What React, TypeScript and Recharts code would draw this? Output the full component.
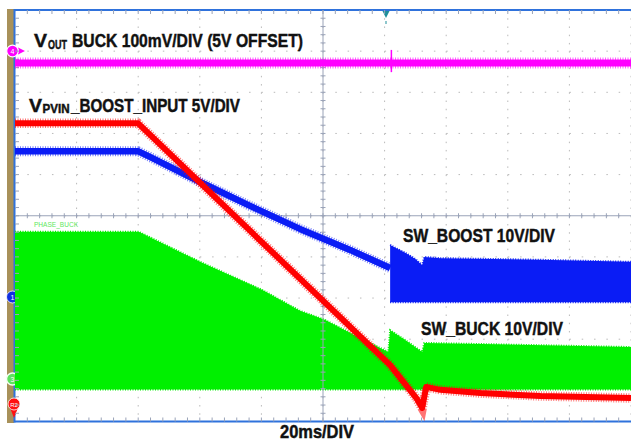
import React from "react";
import { ComposedChart, Line, Area, XAxis, YAxis, CartesianGrid, ReferenceLine } from "recharts";

// ---- axes: time in ms (20 ms/div, 10 div), vertical in screen divisions (10 div)
const X_TICKS = [0, 20, 40, 60, 80, 100, 120, 140, 160, 180, 200];
const Y_TICKS = [0, 1, 2, 3, 4, 5, 6, 7, 8, 9, 10];

// ---- VOUT BUCK (magenta)
const voutT = [0, 200];
const voutV = [8.71, 8.71];
const voutSpikeT = [122.2, 122.2];
const voutSpikeV = [9.03, 8.49];

// ---- VPVIN boost input (red)
const vpvinT = [0, 39.9, 121.8, 126.7, 130.3, 132.2, 133.5, 138.1, 151.1, 170.6, 200];
const vpvinV = [7.25, 7.25, 1.37, 0.91, 0.57, 0.33, 0.84, 0.77, 0.69, 0.62, 0.57];

// ---- SW_BOOST (blue): ramp before switching, then switching band
const boostT = [0, 39.9, 43.8, 60.1, 76.3, 92.5, 108.8, 121.8];
const boostV = [6.57, 6.57, 6.43, 5.82, 5.24, 4.68, 4.17, 3.73];
const boostBandT = [121.8, 123.5, 126.7, 130.0, 132.2, 132.9, 138.1, 170.6, 200];
const boostBandHi = [4.29, 4.22, 4.1, 3.95, 3.8, 4.0, 3.97, 3.93, 3.88];
const boostBandLo = [2.9, 2.9, 2.9, 2.9, 2.9, 2.9, 2.9, 2.9, 2.9];

// ---- PHASE_BUCK / SW_BUCK (green) switching envelope
const buckT = [0, 40.2, 43.8, 60.1, 80.2, 92.5, 100.6, 112.0, 121.2, 121.8, 126.7, 132.2, 132.9, 200];
const buckHi = [4.61, 4.61, 4.48, 3.88, 3.2, 2.69, 2.47, 2.03, 1.69, 2.22, 1.98, 1.69, 1.91, 1.81];
const buckLo = [0.78, 0.78, 0.78, 0.78, 0.78, 0.78, 0.78, 0.78, 0.78, 0.78, 0.78, 0.78, 0.78, 0.78];

const voutData = voutT.map((t, i) => ({ t, v: voutV[i] }));
const voutSpike = voutSpikeT.map((t, i) => ({ t, v: voutSpikeV[i] }));
const vpvinData = vpvinT.map((t, i) => ({ t, v: vpvinV[i] }));
const boostData = boostT.map((t, i) => ({ t, v: boostV[i] }));
const boostBand = boostBandT.map((t, i) => ({ t, r: [boostBandLo[i], boostBandHi[i]] }));
const buckBand = buckT.map((t, i) => ({ t, r: [buckLo[i], buckHi[i]] }));

const W = 631;
const H = 445;
const MARGIN = { top: 10, right: 0, bottom: 23.5, left: 15 };
const PX_X = 200 / 616; // ms per px
const PX_Y = 10 / 411.5; // div per px
const FONT = "'Liberation Sans Narrow', 'Liberation Sans', Arial, sans-serif";
const AXIS_C = "#9aa3b8";
const BORDER_C = "#2f72dc";
const INK = "#111";

function tickSegments() {
  const segs: { key: string; seg: { x: number; y: number }[] }[] = [];
  for (let i = 1; i < 50; i++) {
    const x = i * 4;
    segs.push({ key: "ch" + i, seg: [{ x, y: 5 - 2.5 * PX_Y }, { x, y: 5 + 2.5 * PX_Y }] });
    segs.push({ key: "tp" + i, seg: [{ x, y: 10 }, { x, y: 10 - 4 * PX_Y }] });
    segs.push({ key: "bt" + i, seg: [{ x, y: 0 }, { x, y: 4 * PX_Y }] });
    const y = i * 0.2;
    segs.push({ key: "cv" + i, seg: [{ x: 100 - 2.5 * PX_X, y }, { x: 100 + 2.5 * PX_X, y }] });
    segs.push({ key: "lf" + i, seg: [{ x: 0, y }, { x: 4 * PX_X, y }] });
  }
  return segs;
}

function Bold(props: { x: number; y: number; size: number; len: number; children: string }) {
  return (
    <text
      x={props.x}
      y={props.y}
      fontFamily={FONT}
      fontWeight="bold"
      fontSize={props.size}
      fill={INK}
      stroke={INK}
      strokeWidth={0.45}
      textLength={props.len}
      lengthAdjust="spacingAndGlyphs"
    >
      {props.children}
    </text>
  );
}

export default function App() {
  const ticks = tickSegments();
  return (
    <div style={{ position: "absolute", left: 0, top: 0, width: W, height: H, background: "#fff" }}>
      <ComposedChart width={W} height={H} margin={MARGIN}>
        <XAxis dataKey="t" type="number" domain={[0, 200]} ticks={X_TICKS} hide />
        <YAxis type="number" domain={[0, 10]} ticks={Y_TICKS} hide />
        <CartesianGrid horizontal={false} vertical stroke="#b9b9b9" strokeDasharray="1.5 6.73" />
        <CartesianGrid horizontal vertical={false} stroke="#b9b9b9" strokeDasharray="1.5 10.82" />

        <ReferenceLine x={100} stroke={AXIS_C} strokeWidth={1} />
        <ReferenceLine y={5} stroke={AXIS_C} strokeWidth={1} />
        {ticks.map((s) => (
          <ReferenceLine key={s.key} segment={s.seg} stroke={AXIS_C} strokeWidth={1} ifOverflow="visible" />
        ))}

        {/* green switching envelope */}
        <Area data={buckBand} dataKey="r" type="linear" fill="#00f000" fillOpacity={1} stroke="#00f000" strokeWidth={2} strokeDasharray="1 1.5" isAnimationActive={false} dot={false} activeDot={false} />

        {/* blue */}
        <Area data={boostBand} dataKey="r" type="linear" fill="#0a1cf5" fillOpacity={1} stroke="#0a1cf5" strokeWidth={2} strokeDasharray="1 1.5" isAnimationActive={false} dot={false} activeDot={false} />
        <Line data={boostData} dataKey="v" type="linear" stroke="#0a1cf5" strokeWidth={10} strokeOpacity={0.55} strokeDasharray="1 1.5" dot={false} activeDot={false} isAnimationActive={false} />
        <Line data={boostData} dataKey="v" type="linear" stroke="#0a1cf5" strokeWidth={6.5} strokeLinejoin="round" dot={false} activeDot={false} isAnimationActive={false} />

        {/* red */}
        <Line data={vpvinData} dataKey="v" type="linear" stroke="#ff0000" strokeWidth={9.5} strokeOpacity={0.55} strokeDasharray="1 1.5" dot={false} activeDot={false} isAnimationActive={false} />
        <Line data={vpvinData} dataKey="v" type="linear" stroke="#ff0000" strokeWidth={6} strokeLinejoin="round" dot={false} activeDot={false} isAnimationActive={false} />

        {/* magenta */}
        <Line data={voutData} dataKey="v" type="linear" stroke="#ff00ff" strokeWidth={11} strokeOpacity={0.6} strokeDasharray="1 1.5" dot={false} activeDot={false} isAnimationActive={false} />
        <Line data={voutData} dataKey="v" type="linear" stroke="#ff00ff" strokeWidth={7} dot={false} activeDot={false} isAnimationActive={false} />
        <Line data={voutSpike} dataKey="v" type="linear" stroke="#ff00ff" strokeWidth={1.5} dot={false} activeDot={false} isAnimationActive={false} />

        {/* frame */}
        <rect x={7} y={9} width={7} height={414} fill="#a8915a" />
        <line x1={14} y1={10} x2={631} y2={10} stroke={BORDER_C} strokeWidth={2} />
        <line x1={14} y1={421.5} x2={631} y2={421.5} stroke={BORDER_C} strokeWidth={2} />
        <line x1={14.5} y1={9} x2={14.5} y2={422.5} stroke={BORDER_C} strokeWidth={2} />

        {/* channel markers */}
        <g>
          <polygon points="18,47.5 18,54.5 25,51" fill="#ff00ff" />
          <circle cx={12.5} cy={51} r={5.8} fill="#ff00ff" stroke="#fff" strokeWidth={1.2} />
          <text x={12.5} y={53.5} fontSize={7} fill="#fff" textAnchor="middle" fontFamily={FONT}>4</text>
        </g>
        <g>
          <polygon points="18,293.5 18,300.5 26,297" fill="#1030e0" />
          <circle cx={12.5} cy={297} r={6} fill="#1030e0" stroke="#fff" strokeWidth={0.8} />
          <text x={12.5} y={299.5} fontSize={7} fill="#fff" textAnchor="middle" fontFamily={FONT}>1</text>
        </g>
        <g>
          <polyline points="18,376 26,379 18,382" fill="none" stroke="#e8ffe8" strokeWidth={1.2} />
          <circle cx={12.5} cy={379} r={6} fill="#5ee05e" stroke="#f4fff4" strokeWidth={1.5} />
          <text x={12.5} y={381.5} fontSize={7} fill="#fff" textAnchor="middle" fontFamily={FONT}>3</text>
        </g>
        <g>
          <polygon points="10.5,409 17.5,409 14,418" fill="#ff1010" />
          <circle cx={14} cy={404} r={6} fill="#ff1010" stroke="#fff" strokeWidth={0.8} />
          <text x={14} y={406.5} fontSize={6} fill="#fff" textAnchor="middle" fontFamily={FONT}>R2</text>
        </g>
        <polygon points="382.5,11 389.5,11 386,18" fill="#1f8f9a" />
        <line x1={386} y1={21} x2={386} y2={24} stroke="#1f8f9a" strokeWidth={1} />
        <polygon points="620,354 626,351 626,357" fill="#ff2020" />
        <line x1={625} y1={354} x2={631} y2={354} stroke="#ff2020" strokeWidth={1} />

        {/* labels */}
        <Bold x={34} y={47} size={19} len={13}>V</Bold>
        <Bold x={48} y={48.5} size={12.5} len={19}>OUT</Bold>
        <Bold x={72} y={47} size={19} len={231}>BUCK 100mV/DIV (5V OFFSET)</Bold>

        <Bold x={29} y={112} size={18} len={13}>V</Bold>
        <Bold x={42.5} y={113} size={12} len={27}>PVIN</Bold>
        <Bold x={71} y={112} size={18} len={169}>_BOOST_INPUT 5V/DIV</Bold>

        <Bold x={403} y={242} size={19} len={152}>SW_BOOST 10V/DIV</Bold>
        <Bold x={421} y={335} size={18.5} len={142}>SW_BUCK 10V/DIV</Bold>
        <Bold x={280} y={438} size={18} len={74}>20ms/DIV</Bold>
        <text x={34} y={227} fontFamily={FONT} fontSize={7} fill="#5ee85e" textLength={44} lengthAdjust="spacingAndGlyphs">PHASE_BUCK</text>
      </ComposedChart>
    </div>
  );
}
